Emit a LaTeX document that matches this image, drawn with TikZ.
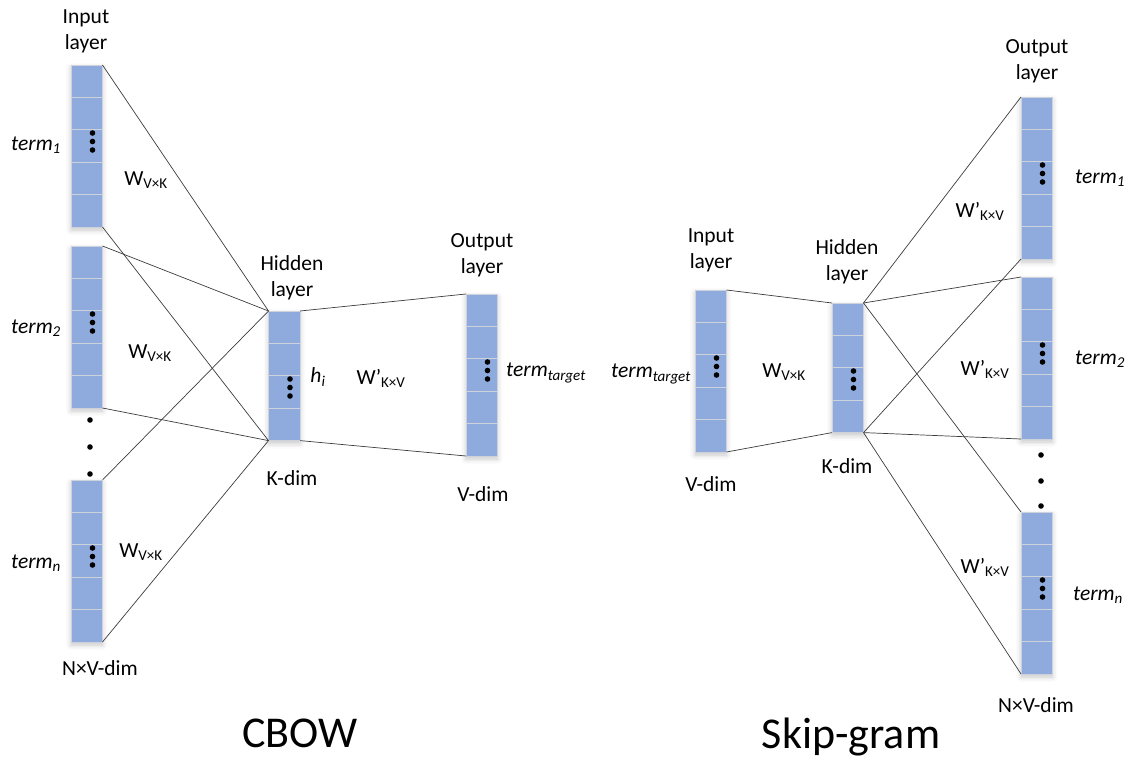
\documentclass[tikz,border=0pt]{standalone}
\usepackage{fontspec}
\setmainfont{Carlito}
\usetikzlibrary{shadows.blur}

\definecolor{boxblue}{RGB}{143,170,220}
\definecolor{sepgray}{RGB}{205,210,220}
\definecolor{linkgray}{RGB}{60,60,60}

\tikzset{
  colbox/.style={rectangle, fill=boxblue, draw=sepgray, line width=0.6pt,
    minimum width=31.5pt, inner sep=0pt, outer sep=0pt,
    blur shadow={shadow xshift=0pt, shadow yshift=-3pt,
      shadow blur radius=5pt, shadow opacity=22}},
  cellsep/.style={draw=sepgray, line width=1.2pt},
  link/.style={draw=linkgray, line width=0.7pt},
  lbl/.style={font=\fontsize{21.5}{26}\selectfont, align=center, inner sep=0pt},
  title/.style={font=\fontsize{44}{50}\selectfont, inner sep=0pt},
}

% a vertical vector: name, left x, top y, number of cells
\newcommand\vcol[4]{%
  \node[colbox, minimum height={#4*32.4pt}, anchor=north west] (#1) at (#2,#3) {};
  \pgfmathtruncatemacro\nsep{#4-1}%
  \foreach \k in {1,...,\nsep}{%
    \draw[cellsep] ([yshift={-\k*32.4pt}]#1.north west) -- ([yshift={-\k*32.4pt}]#1.north east);}
  \foreach \d in {68,76.5,85}{%
    \fill ([xshift=21.5pt,yshift={-\d*1pt}]#1.north west) circle (2.8pt);}
}

\begin{document}
\begin{tikzpicture}[x=1pt,y=-1pt]
\useasboundingbox (0,0) rectangle (1135,762);

% ---------------- CBOW ----------------
\vcol{in1}{71}{65}{5}
\vcol{in2}{71}{246}{5}
\vcol{in3}{71}{480}{5}
\vcol{hid}{268.5}{311}{4}
\vcol{out}{466}{294}{5}

\foreach \y in {420,447,474} \fill (90,\y) circle (2.8pt);

\foreach \s in {in1,in2,in3}{
  \draw[link] (\s.north east) -- (hid.north west);
  \draw[link] (\s.south east) -- (hid.south west);
}
\draw[link] (hid.north east) -- (out.north west);
\draw[link] (hid.south east) -- (out.south west);

\node[lbl] (inlab) at (86,31) {Input\\layer};
\node[lbl] (t1) at (36,145) {\itshape term\textsubscript{1}};
\node[lbl] (w1) at (146,180) {W\textsubscript{V×K}};
\node[lbl] (t2) at (36,328) {\itshape term\textsubscript{2}};
\node[lbl] (w2) at (150,353) {W\textsubscript{V×K}};
\node[lbl] (tn) at (36,563) {\itshape term\textsubscript{n}};
\node[lbl] (w3) at (141,552) {W\textsubscript{V×K}};
\node[lbl] (nv) at (100,668) {N×V-dim};
\node[lbl] (hidlab) at (292,278) {Hidden\\layer};
\node[lbl] (hi) at (318,377) {\itshape h\textsubscript{i}};
\node[lbl] (wp) at (381,378) {W’\textsubscript{K×V}};
\node[lbl] (outlab) at (482,255) {Output\\layer};
\node[lbl] (tt) at (546,373) {\itshape term\textsubscript{target}};
\node[lbl] (kd) at (292,478) {K-dim};
\node[lbl] (vd) at (483,494) {V-dim};
\node[title] (cbow) at (300,733) {CBOW};

% ---------------- Skip-gram ----------------
\vcol{sin}{695}{290}{5}
\vcol{shid}{832}{303}{4}
\vcol{so1}{1021}{97}{5}
\vcol{so2}{1021}{277}{5}
\vcol{so3}{1021}{512}{5}

\foreach \y in {455,481,506} \fill (1041,\y) circle (2.8pt);

\draw[link] (sin.north east) -- (shid.north west);
\draw[link] (sin.south east) -- (shid.south west);
\foreach \s in {so1,so2,so3}{
  \draw[link] (shid.north east) -- (\s.north west);
  \draw[link] (shid.south east) -- (\s.south west);
}

\node[lbl] (sinlab) at (711,250) {Input\\layer};
\node[lbl] (stt) at (651,374) {\itshape term\textsubscript{target}};
\node[lbl] (sw) at (784,372) {W\textsubscript{V×K}};
\node[lbl] (shidlab) at (847,262) {Hidden\\layer};
\node[lbl] (skd) at (847,466) {K-dim};
\node[lbl] (svd) at (711,484) {V-dim};
\node[lbl] (soutlab) at (1037,61) {Output\\layer};
\node[lbl] (st1) at (1100,178) {\itshape term\textsubscript{1}};
\node[lbl] (swp1) at (980,211) {W’\textsubscript{K×V}};
\node[lbl] (st2) at (1100,359) {\itshape term\textsubscript{2}};
\node[lbl] (swp2) at (985,369) {W’\textsubscript{K×V}};
\node[lbl] (stn) at (1098,595) {\itshape term\textsubscript{n}};
\node[lbl] (swp3) at (985,567) {W’\textsubscript{K×V}};
\node[lbl] (snv) at (1036,705) {N×V-dim};
\node[title] (skip) at (851,737) {Skip-gram};
\end{tikzpicture}
\end{document}
